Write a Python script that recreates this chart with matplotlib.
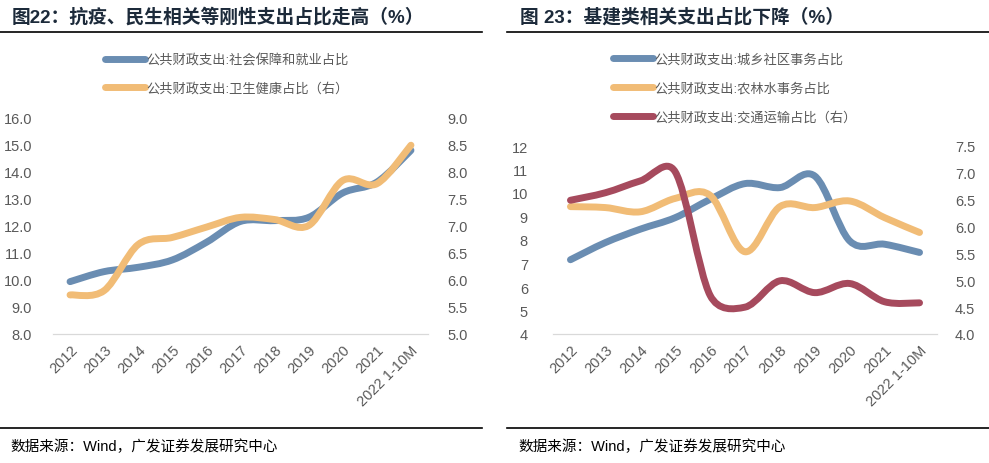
import matplotlib
matplotlib.use('Agg')
from matplotlib import pyplot as plt
from matplotlib.lines import Line2D
from matplotlib.path import Path
from matplotlib.patches import PathPatch

plt.rcParams['font.family'] = ['Liberation Sans', 'Noto Sans CJK SC']

years = ['2012', '2013', '2014', '2015', '2016', '2017', '2018', '2019', '2020', '2021', '2022 1-10M']

# 图22
social_security = [9.93, 10.30, 10.46, 10.73, 11.38, 12.15, 12.18, 12.30, 13.20, 13.60, 14.77]
health = [5.72, 5.80, 6.65, 6.78, 6.97, 7.15, 7.11, 7.00, 7.83, 7.77, 8.48]

# 图23
urban_rural = [7.16, 7.89, 8.46, 8.95, 9.73, 10.40, 10.23, 10.72, 7.96, 7.82, 7.47]
agri_water = [9.42, 9.38, 9.20, 9.77, 9.90, 7.50, 9.42, 9.38, 9.66, 8.95, 8.32]
transport = [6.49, 6.63, 6.85, 7.02, 4.72, 4.50, 4.99, 4.77, 4.94, 4.60, 4.58]

BLUE = '#6A8DB2'
ORANGE = '#F1BC76'
RED = '#A64A5D'
GRAY = '#595959'
LW = 5


def smooth_line(ax, ys, color):
    # Excel-style smoothed line: cubic Bezier through the points,
    # control arms limited to half the segment length (in pixels)
    fig.canvas.draw_idle()
    pix = [ax.transData.transform((i, y)) for i, y in enumerate(ys)]
    n = len(pix)

    def dist(a, b):
        return ((a[0] - b[0]) ** 2 + (a[1] - b[1]) ** 2) ** 0.5

    verts = [tuple(pix[0])]
    codes = [Path.MOVETO]
    for i in range(n - 1):
        p0 = pix[i - 1] if i > 0 else pix[i]
        p1 = pix[i]
        p2 = pix[i + 1]
        p3 = pix[i + 2] if i + 2 < n else pix[i + 1]
        seg = dist(p1, p2)
        a = (p2 - p0) / 6
        b = (p3 - p1) / 6
        la, lb = dist(a, (0, 0)), dist(b, (0, 0))
        if la > seg / 2:
            a = a * (seg / 2) / la
        if lb > seg / 2:
            b = b * (seg / 2) / lb
        verts += [tuple(p1 + a), tuple(p2 - b), tuple(p2)]
        codes += [Path.CURVE4] * 3
    inv = ax.transData.inverted()
    verts = [tuple(inv.transform(v)) for v in verts]
    patch = PathPatch(Path(verts, codes), fill=False, edgecolor=color, lw=LW,
                      capstyle='round', joinstyle='round')
    ax.add_patch(patch)


def style_axes(ax, ax2):
    for a in (ax, ax2):
        for s in ('top', 'left', 'right'):
            a.spines[s].set_visible(False)
        a.spines['bottom'].set_color('#D9D9D9')
        a.tick_params(length=0, colors=GRAY, labelsize=10.5)
    ax.set_xlim(-0.5, len(years) - 0.5)
    ax2.set_xlim(-0.5, len(years) - 0.5)
    ax.set_xticks(range(len(years)))
    ax.set_xticklabels(years, rotation=45, ha='right', rotation_mode='anchor')
    ax.tick_params(axis='x', pad=6)


fig = plt.figure(figsize=(9.89, 4.64), dpi=100)
W, H = 989, 464

# ---- left panel ----
ax = fig.add_axes([53 / W, 1 - 335 / H, 375 / W, 217 / H])
ax2 = ax.twinx()
ax.set_ylim(8, 16)
ax.set_yticks(range(8, 17))
ax.set_yticklabels([f'{v:.1f}' for v in range(8, 17)])
ax2.set_ylim(5, 9)
ax2.set_yticks([5 + 0.5 * i for i in range(9)])
ax2.set_yticklabels([f'{5 + 0.5 * i:.1f}' for i in range(9)])
style_axes(ax, ax2)
ax.tick_params(axis='y', pad=15)
ax2.tick_params(axis='y', pad=14)
smooth_line(ax, social_security, BLUE)
smooth_line(ax2, health, ORANGE)

fig.legend(handles=[Line2D([], [], color=BLUE, lw=LW, solid_capstyle='round'),
                    Line2D([], [], color=ORANGE, lw=LW, solid_capstyle='round')],
           labels=['公共财政支出:社会保障和就业占比', '公共财政支出:卫生健康占比（右）'],
           loc='upper left', bbox_to_anchor=(100 / W, 1 - 49 / H), frameon=False,
           handlelength=3.0, handletextpad=0.1, labelspacing=1.2, fontsize=9.5,
           labelcolor=GRAY, borderaxespad=0)

# ---- right panel ----
bx = fig.add_axes([553 / W, 1 - 335 / H, 384 / W, 188 / H])
bx2 = bx.twinx()
bx.set_ylim(4, 12)
bx.set_yticks(range(4, 13))
bx2.set_ylim(4, 7.5)
bx2.set_yticks([4 + 0.5 * i for i in range(8)])
bx2.set_yticklabels([f'{4 + 0.5 * i:.1f}' for i in range(8)])
style_axes(bx, bx2)
bx.tick_params(axis='y', pad=18)
bx2.tick_params(axis='y', pad=13)
smooth_line(bx, urban_rural, BLUE)
smooth_line(bx, agri_water, ORANGE)
smooth_line(bx2, transport, RED)

fig.legend(handles=[Line2D([], [], color=BLUE, lw=LW, solid_capstyle='round'),
                    Line2D([], [], color=ORANGE, lw=LW, solid_capstyle='round'),
                    Line2D([], [], color=RED, lw=LW, solid_capstyle='round')],
           labels=['公共财政支出:城乡社区事务占比', '公共财政支出:农林水事务占比',
                   '公共财政支出:交通运输占比（右）'],
           loc='upper left', bbox_to_anchor=(608 / W, 1 - 49 / H), frameon=False,
           handlelength=3.0, handletextpad=0.1, labelspacing=1.2, fontsize=9.5,
           labelcolor=GRAY, borderaxespad=0)

# ---- titles, rules and sources ----
title_color = '#1C2A3A'
fig.text(12 / W, 1 - 17 / H, '图22：抗疫、民生相关等刚性支出占比走高（%）', fontsize=13.5,
         fontweight='bold', color=title_color, va='center', ha='left')
fig.text(520 / W, 1 - 17 / H, '图 23：基建类相关支出占比下降（%）', fontsize=13.5,
         fontweight='bold', color=title_color, va='center', ha='left')
for x0, x1 in ((0, 482), (507, 989)):
    fig.add_artist(Line2D([x0 / W, x1 / W], [1 - 33 / H, 1 - 33 / H], color='black', lw=1.2))
    fig.add_artist(Line2D([x0 / W, x1 / W], [1 - 429 / H, 1 - 429 / H], color='black', lw=1.2))
fig.text(10 / W, 1 - 447 / H, '数据来源：Wind，广发证券发展研究中心', fontsize=10.5,
         color='black', va='center', ha='left')
fig.text(518 / W, 1 - 447 / H, '数据来源：Wind，广发证券发展研究中心', fontsize=10.5,
         color='black', va='center', ha='left')

fig.savefig('out.png', dpi=100)
